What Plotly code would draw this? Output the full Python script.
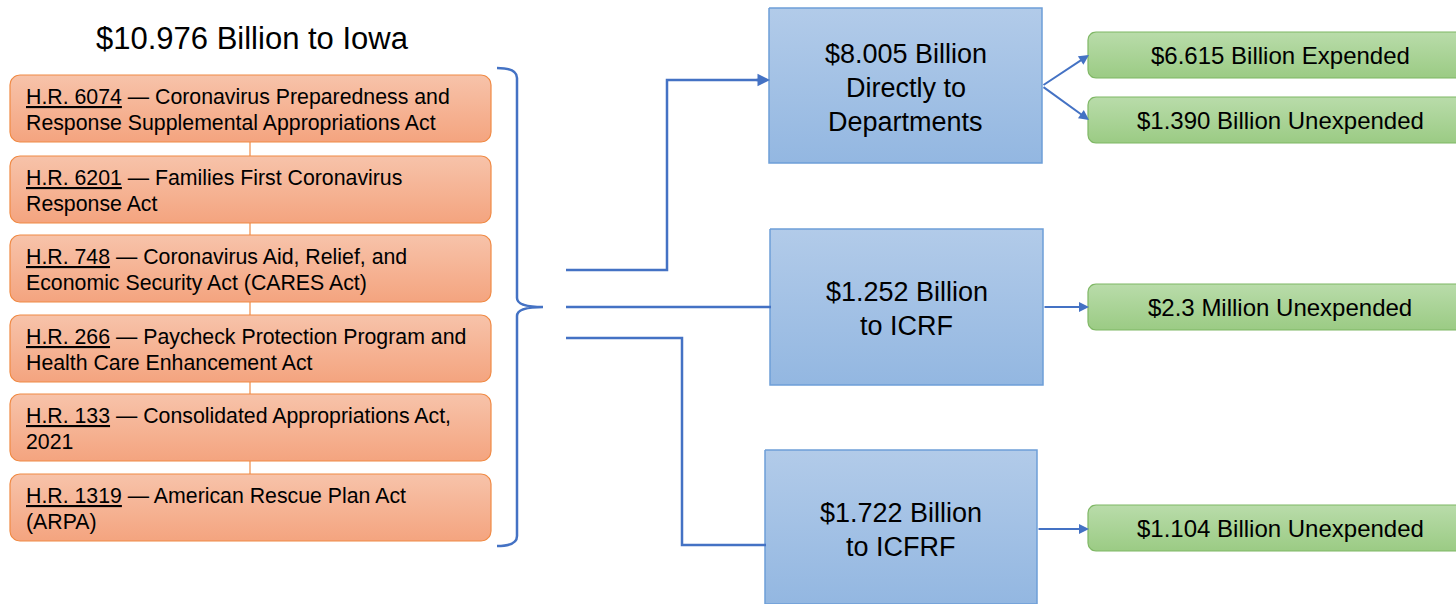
import math
import plotly.graph_objects as go

# ---------------- data ----------------
title_text = "$10.976 Billion to Iowa"
bill_ids = ["H.R. 6074", "H.R. 6201", "H.R. 748", "H.R. 266", "H.R. 133", "H.R. 1319"]
bill_desc = [
    ["Coronavirus Preparedness and", "Response Supplemental Appropriations Act"],
    ["Families First Coronavirus", "Response Act"],
    ["Coronavirus Aid, Relief, and", "Economic Security Act (CARES Act)"],
    ["Paycheck Protection Program and", "Health Care Enhancement Act"],
    ["Consolidated Appropriations Act,", "2021"],
    ["American Rescue Plan Act", "(ARPA)"],
]
fund_labels = [
    ["$8.005 Billion", "Directly to", "Departments"],
    ["$1.252 Billion", "to ICRF"],
    ["$1.722 Billion", "to ICFRF"],
]
outcome_labels = [
    "$6.615 Billion Expended",
    "$1.390 Billion Unexpended",
    "$2.3 Million Unexpended",
    "$1.104 Billion Unexpended",
]

# ---------------- styles / layout ----------------
W, H = 1456, 604
BLUE_LINE = "#4472c4"
FONT = "Liberation Sans, Arial, sans-serif"
NARROW = "Liberation Sans Narrow, Arial Narrow, Liberation Sans, Arial, sans-serif"

fig = go.Figure()


def rrect(x0, y0, x1, y1, r, n=8):
    xs, ys = [], []
    corners = [(x1 - r, y0 + r, -90, 0), (x1 - r, y1 - r, 0, 90),
               (x0 + r, y1 - r, 90, 180), (x0 + r, y0 + r, 180, 270)]
    for cx, cy, a0, a1 in corners:
        for i in range(n + 1):
            a = math.radians(a0 + (a1 - a0) * i / n)
            xs.append(cx + r * math.cos(a))
            ys.append(cy + r * math.sin(a))
    xs.append(xs[0]); ys.append(ys[0])
    return xs, ys


def box(x0, y0, x1, y1, r, ctop, cbot, line, lw=1.2):
    if r > 0:
        xs, ys = rrect(x0, y0, x1, y1, r)
    else:
        xs, ys = [x0, x1, x1, x0, x0], [y0, y0, y1, y1, y0]
    fig.add_trace(go.Scatter(
        x=xs, y=ys, mode="lines", fill="toself",
        fillgradient=dict(type="vertical", colorscale=[[0, ctop], [1, cbot]],
                          start=y0, stop=y1),
        line=dict(color=line, width=lw), hoverinfo="skip", showlegend=False))


# title
fig.add_annotation(x=252, y=38, text=title_text, showarrow=False,
                   font=dict(family=FONT, size=31, color="#000"))

# orange bill boxes
bill_top = [75, 156, 235, 315, 394, 474]
bill_h = 67
for i in range(len(bill_ids) - 1):
    fig.add_shape(type="line", x0=250, x1=250, y0=bill_top[i] + bill_h,
                  y1=bill_top[i + 1], line=dict(color="#f08a44", width=1.2))
for i, (bid, desc) in enumerate(zip(bill_ids, bill_desc)):
    y0 = bill_top[i]
    box(10, y0, 491, y0 + bill_h, 10, "#f7c3aa", "#f4a47f", "#f08a44")
    fig.add_annotation(x=24, y=y0 + 22, text=f"<u>{bid}</u> — {desc[0]}",
                       showarrow=False, xanchor="left", align="left",
                       font=dict(family=FONT, size=21.3, color="#000"))
    fig.add_annotation(x=24, y=y0 + 48, text=desc[1],
                       showarrow=False, xanchor="left", align="left",
                       font=dict(family=FONT, size=21.3, color="#000"))

# bracket
fig.add_shape(type="path",
              path="M 497 68 Q 517 68 517 78 L 517 298 Q 517 307 543 307 "
                   "Q 517 307 517 316 L 517 536 Q 517 546 497 546",
              line=dict(color=BLUE_LINE, width=2.5))

# connector lines
fig.add_shape(type="path", path="M 566 270 L 667 270 L 667 80 L 760 80",
              line=dict(color=BLUE_LINE, width=2.5))
fig.add_annotation(x=770, y=80, ax=755, ay=80, axref="x", ayref="y",
                   showarrow=True, arrowhead=2, arrowsize=1, arrowwidth=2.5,
                   arrowcolor=BLUE_LINE, text="")
fig.add_shape(type="path", path="M 566 307 L 771 307",
              line=dict(color=BLUE_LINE, width=2.5))
fig.add_shape(type="path", path="M 566 338 L 682 338 L 682 545 L 766 545",
              line=dict(color=BLUE_LINE, width=2.5))

# blue fund boxes
fund_boxes = [(769, 8, 1042, 163), (770, 229, 1043, 385), (765, 450, 1037, 604)]
for (x0, y0, x1, y1), lab in zip(fund_boxes, fund_labels):
    box(x0, y0, x1, y1, 0, "#b2cbe9", "#93b7e1", "#6d9fd8", 1.5)
    first = y0 + 46 if len(lab) == 3 else y0 + 63
    for k, line in enumerate(lab):
        fig.add_annotation(x=(x0 + x1) / 2, y=first + 34 * k, text=line,
                           showarrow=False,
                           font=dict(family=NARROW, size=27, color="#000"))

# green outcome boxes
green_top = [32, 97, 284, 505]
green_h = 46
for yt, lab in zip(green_top, outcome_labels):
    box(1088, yt, 1480, yt + green_h, 8, "#b9dcaa", "#9bcb84", "#7fb765")
    fig.add_annotation(x=1280, y=yt + green_h / 2, text=lab, showarrow=False,
                       font=dict(family=NARROW, size=24, color="#000"))

# arrows to outcomes
arrows = [((1042, 86), (1089, 55)), ((1042, 86), (1089, 120)),
          ((1043, 307), (1089, 307)), ((1037, 529), (1089, 529))]
for (tx, ty), (hx, hy) in arrows:
    fig.add_annotation(x=hx, y=hy, ax=tx, ay=ty, axref="x", ayref="y",
                       showarrow=True, arrowhead=2, arrowsize=1, arrowwidth=2,
                       arrowcolor=BLUE_LINE, text="")

fig.update_layout(
    width=W, height=H, margin=dict(l=0, r=0, t=0, b=0),
    paper_bgcolor="white", plot_bgcolor="white", showlegend=False,
    xaxis=dict(range=[0, W], visible=False, fixedrange=True),
    yaxis=dict(range=[H, 0], visible=False, fixedrange=True),
)
fig.write_html("out.html", config={"displayModeBar": False},
               post_script="document.body.style.margin='0';"
                           "document.body.style.overflow='hidden';")
